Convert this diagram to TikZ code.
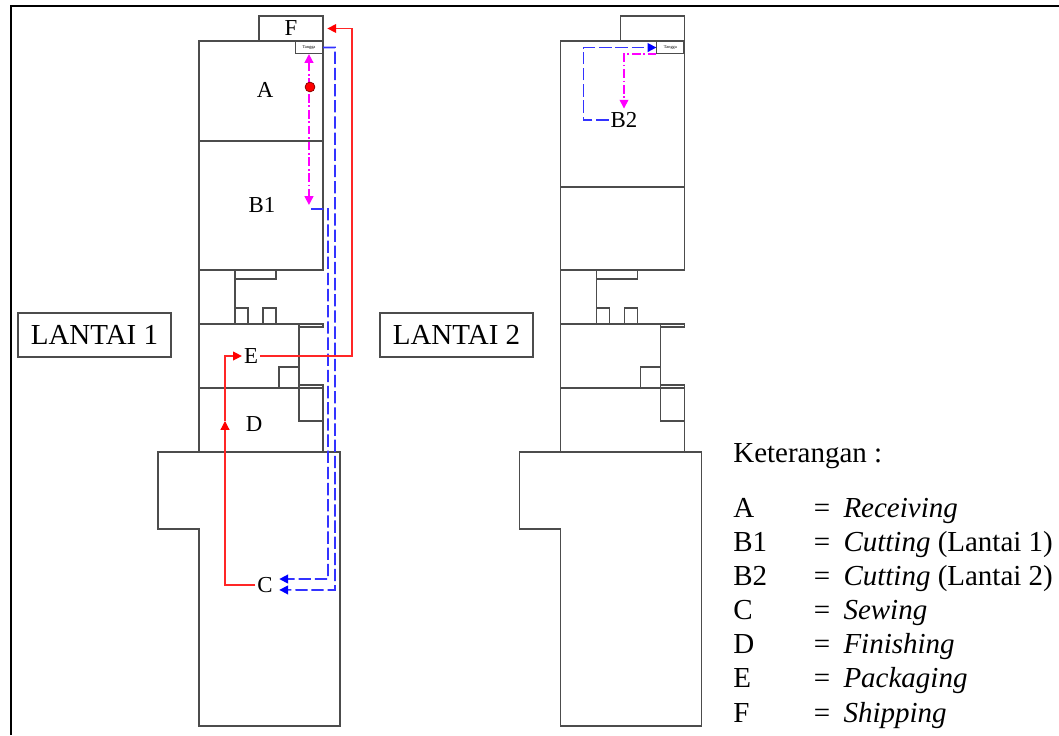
\documentclass[tikz,border=0pt]{standalone}
\usepackage{fontspec}
\setmainfont{Liberation Serif}
\usetikzlibrary{arrows.meta}
\definecolor{flowmagenta}{RGB}{255,0,255}

\tikzset{
  wall/.style={draw=black!70, line width=0.75pt},
  roomlabel/.style={font=\fontsize{13}{15}\selectfont, inner sep=1pt},
  stairbox/.style={draw=black!70, line width=0.6pt, minimum width=0.54cm, minimum height=0.24cm, inner sep=0pt, font=\fontsize{2.5}{3}\selectfont},
  floorname/.style={draw=black!70, line width=0.6pt, minimum width=3.06cm, minimum height=0.88cm, font=\fontsize{16.5}{19}\selectfont},
  redflow/.style={red!85, line width=0.7pt, -{Triangle[length=5pt,width=5pt,color=red]}},
  blueflow/.style={blue!80, line width=0.9pt, dash pattern=on 7pt off 2.2pt, -{Triangle[length=5pt,width=5pt,color=blue]}},
  magflow/.style={flowmagenta, line width=0.9pt, dash pattern=on 5pt off 1.5pt on 1pt off 1.5pt},
}

\begin{document}
\begin{tikzpicture}[x=0.02cm, y=-0.02cm]
	\useasboundingbox (0,0) rectangle (1059,735);
	\draw[line width=1.3pt] (11,735) -- (11,6) -- (1059,6);

	% floor plans, lantai 1 and lantai 2
	\foreach \dx/\i/\dy in {0/1/141, 7.23/2/187}{
		\begin{scope}[xshift=\dx cm]
		\draw[wall] (259,16) rectangle (323,41);
		\draw[wall] (199,41) rectangle (323,270);
		\draw[wall] (199,\dy) -- (323,\dy);
		\draw[wall] (199,270) -- (199,452);
		\draw[wall] (235,270) -- (235,324);
		\draw[wall] (235,279) -- (276,279) -- (276,270);
		\draw[wall] (235,308) rectangle (248,324);
		\draw[wall] (263,308) rectangle (276,324);
		\draw[wall] (199,324) -- (299,324) -- (299,421) -- (323,421);
		\draw[wall] (299,324) rectangle (323,327);
		\draw[wall] (279,388) |- (299,367);
		\draw[wall] (199,388) -- (299,388);
		\draw[wall] (299,385) rectangle (323,388);
		\draw[wall] (323,385) -- (323,452);
		\draw[wall] (158,452) -- (340,452) -- (340,726) -- (199,726) -- (199,529) -- (158,529) -- cycle;
		\node[stairbox, anchor=north east] (tangga\i) at (323,41) {Tangga};
		\end{scope}
	}

	\node[floorname] (lantai1) at (94.5,335) {LANTAI 1};
	\node[floorname] (lantai2) at (456.5,335) {LANTAI 2};

	\node[roomlabel, minimum width=1.28cm, minimum height=0.5cm] (F) at (291,28.5) {F};
	\node[roomlabel] (A) at (265,90) {A};
	\node[roomlabel] (B1) at (262,205) {B1};
	\node[roomlabel] (E) at (251,356) {E};
	\node[roomlabel] (D) at (254,424) {D};
	\node[roomlabel] (C) at (265,585) {C};
	\node[roomlabel] (B2) at (624,120) {B2};

	% material flow
	\coordinate (b1out) at (311,209);
	\coordinate (dturn) at (225,421);
	\draw[blueflow, shorten >=2.6pt] (b1out) -| (328,579) -- ([yshift=3.4pt]C.east);
	\draw[blueflow, shorten >=2.6pt] (tangga1.east) -| (335,590) -- ([yshift=-2.8pt]C.east);
	\draw[redflow] (C.west) -| (dturn);
	\draw[redflow] (dturn) |- (E.west);
	\draw[redflow, shorten >=2.3pt] (E.east) -- +(92,0) |- (F.east);
	\draw[magflow, {Triangle[length=5pt,width=5pt]}-{Triangle[length=5pt,width=5pt]}] (tangga1.south) -- (tangga1.south |- B1);
	\draw[fill=red, draw=red!50!black, line width=0.4pt] (310,87) circle (2.8pt);

	\draw[blueflow] (B2.west) -- +(-25,0) |- (tangga2.west);
	\draw[magflow, -{Triangle[length=5pt,width=5pt]}, shorten >=1pt] (tangga2.south west) -| (B2.north);

	% keterangan
	\node[anchor=base west, inner sep=0pt, font=\fontsize{16.5}{19.45}\selectfont] (ket) at (733,462) {Keterangan :};
	\node[anchor=base west, inner sep=0pt, font=\fontsize{16.5}{19.45}\selectfont] (legend) at (733,517) {%
		\begin{tabular}[t]{@{}p{45.9pt}@{}l@{}}
		A & =\hspace{7.5pt}\textit{Receiving}\\
		B1 & =\hspace{7.5pt}\textit{Cutting} (Lantai 1)\\
		B2 & =\hspace{7.5pt}\textit{Cutting} (Lantai 2)\\
		C & =\hspace{7.5pt}\textit{Sewing}\\
		D & =\hspace{7.5pt}\textit{Finishing}\\
		E & =\hspace{7.5pt}\textit{Packaging}\\
		F & =\hspace{7.5pt}\textit{Shipping}
		\end{tabular}};
\end{tikzpicture}
\end{document}
